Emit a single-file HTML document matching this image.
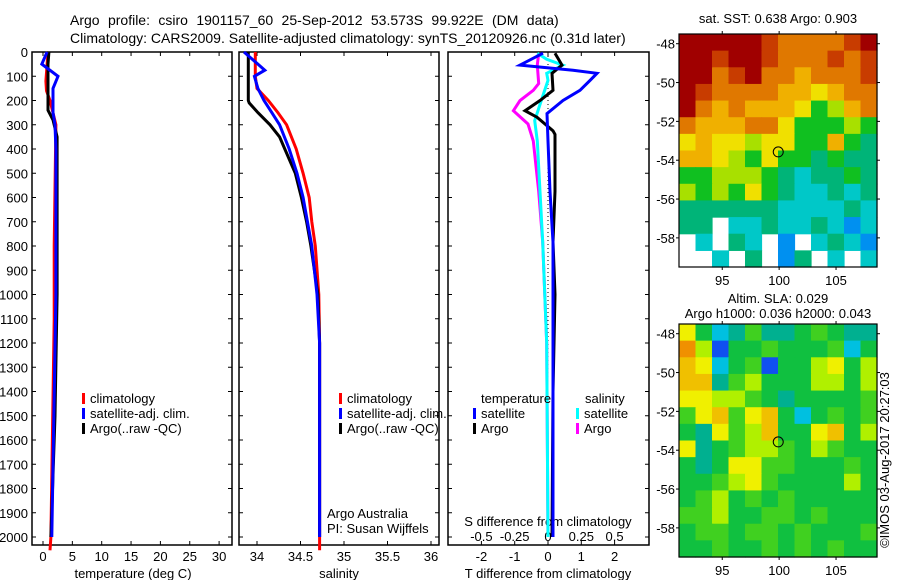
<!DOCTYPE html>
<html><head><meta charset="utf-8">
<style>
html,body{margin:0;padding:0;background:#fff;}
svg{display:block;font-family:"Liberation Sans",sans-serif;}
text{font-size:13px;fill:#000;}
</style></head>
<body>
<svg id="chart" width="900" height="580" viewBox="0 0 900 580" xmlns="http://www.w3.org/2000/svg">
<text x="70" y="25" style="font-size:14px;word-spacing:4.5px">Argo profile: csiro 1901157_60 25-Sep-2012 53.573S 99.922E (DM data)</text>
<text x="70" y="43" style="font-size:14px">Climatology: CARS2009. Satellite-adjusted climatology: synTS_20120926.nc (0.31d later)</text>
<g id="g"></g>
</svg>
<script>
// ---------- data ----------
const depthTicks=[0,100,200,300,400,500,600,700,800,900,1000,1100,1200,1300,1400,1500,1600,1700,1800,1900,2000];
const tempTicks=[0,5,10,15,20,25,30];
const salTicks=[34,34.5,35,35.5,36];
const tdiffTicks=[-2,-1,0,1,2];
const sdiffTicks=[-0.5,-0.25,0,0.25,0.5];
const sdiffLabels=["-0.5","-0.25","0","0.25","0.5"];

const tClimD=[0,120,160,200,300,800,1100,2000,2055];
const tClimV=[0.85,0.5,0.6,1.2,2.2,1.9,1.9,1.35,1.2];
const tSatD=[0,50,100,150,250,300,400,1000,2000];
const tSatV=[0.7,-0.2,2.55,1.7,1.7,2.05,2.2,2.2,1.5];
const tArgoD=[0,50,100,240,280,350,1000,1500,2000];
const tArgoV=[1.0,0.85,0.85,0.85,1.7,2.4,2.4,2.05,1.35];

const sClimD=[0,100,150,200,250,300,400,500,600,700,800,1000,1200,2055];
const sClimV=[33.98,33.98,34.0,34.13,34.24,34.34,34.45,34.53,34.6,34.63,34.67,34.71,34.72,34.72];
const sSatD=[0,50,75,100,150,200,250,300,400,500,600,800,1000,1200,2000];
const sSatV=[33.85,34.01,34.09,33.97,34.01,34.08,34.17,34.26,34.37,34.46,34.53,34.63,34.69,34.72,34.72];
const sArgoD=[0,200,210,250,300,350,400,500,600,700,800,1000,1200,2000];
const sArgoV=[33.9,33.9,33.91,34.01,34.15,34.26,34.32,34.44,34.51,34.57,34.62,34.7,34.72,34.72];

const dTSatD=[5,54,75,88,117,158,200,254,367,575,783,1200,2000];
const dTSatV=[-0.15,-0.84,0.75,1.47,1.26,0.96,0.45,-0.03,0,0.06,0.15,0.15,0.15];
const dTArgoD=[5,54,88,158,200,242,269,325,340,575,783,1000,1400,2000];
const dTArgoV=[0.21,0.42,0.12,0.15,-0.24,-0.69,-0.33,0.15,0.21,0.21,0.15,0.21,0.15,0.12];
const dSSatD=[5,30,54,88,117,200,283,367,575,783,1200,2000];
const dSSatV=[-0.08,-0.01,0.11,-0.01,0,-0.05,-0.1,-0.08,-0.06,-0.04,-0.01,0];
const dSArgoD=[5,54,130,158,200,242,297,367,575,783,1200,2000];
const dSArgoV=[-0.07,-0.08,-0.07,-0.11,-0.21,-0.26,-0.15,-0.11,-0.07,-0.04,-0.01,0];

// maps
const lonTicks=[95,100,105];
const latTicks=[-48,-50,-52,-54,-56,-58];
const argoLon=99.922, argoLat=-53.573;
const sstGrid=[
[9,9,9,9,9,8,7,7,7,7,8,9],
[9,9,8,9,9,8,7,7,7,8,7,8],
[9,9,7,8,9,7,7,6,7,7,7,8],
[9,8,7,7,7,7,6,6,5,6,7,7],
[9,7,6,7,6,6,6,5,3,4,6,7],
[7,6,6,6,7,7,5,3,3,3,4,3],
[5,6,5,5,4,5,5,3,3,6,3,2],
[6,6,5,4,3,5,3,3,2,3,2,2],
[3,3,4,4,4,3,2,1,2,2,3,2],
[4,3,4,3,5,3,2,1,1,2,1,2],
[2,2,2,2,2,2,1,1,1,1,2,1],
[2,2,-1,1,1,2,1,1,2,1,0,1],
[-1,1,-1,2,1,-1,0,-1,1,2,1,0],
[-1,-1,1,-1,2,-1,0,2,-1,1,-1,1]];
const slaGrid=[
[6,3,1,2,4,2,2,3,4,3,2,2],
[8,5,0,3,3,4,3,3,3,4,1,3],
[7,6,1,3,4,0,3,3,5,6,3,5],
[7,7,2,4,5,3,3,3,5,5,3,5],
[6,6,5,5,4,3,2,3,3,3,3,4],
[4,6,7,4,6,7,3,1,3,4,3,4],
[3,2,6,4,5,7,3,3,6,7,3,5],
[6,2,3,4,5,5,4,3,5,4,3,3],
[3,2,3,6,6,4,4,3,3,3,4,3],
[3,3,4,5,6,4,3,3,3,3,5,3],
[3,4,5,3,4,3,4,3,3,3,3,3],
[4,4,5,3,3,4,4,3,4,3,3,3],
[3,4,4,3,4,4,3,4,3,3,3,4],
[3,3,4,3,3,4,3,4,3,4,3,3]];
const sstColors=["#0090f0","#00c8c8","#00b478","#10c020","#a8e000","#f0e000","#f0b000","#e07800","#c83c00","#a00000"];
const slaColors=["#1050f0","#00c0e0","#00b090","#10c040","#40d020","#b0f000","#f0f000","#f0c000","#f09000"];

// ---------- helpers ----------
const NS="http://www.w3.org/2000/svg";
const G=document.getElementById('g');
function mk(tag,attrs,parent){const e=document.createElementNS(NS,tag);for(const k in attrs)e.setAttribute(k,attrs[k]);(parent||G).appendChild(e);return e;}
const TOP=52,BOT=545;
const yD=d=>TOP+d*0.2425;

function panel(x0,x1,name){
  const r=mk('rect',{x:x0,y:TOP,width:x1-x0,height:BOT-TOP,fill:'none',stroke:'#000','stroke-width':1.5});
  
  
}
function xTicks(vals,xf,labels,ly,name){
  vals.forEach((v,i)=>{
    const x=xf(v);
    mk('line',{x1:x,x2:x,y1:TOP,y2:TOP+4,stroke:'#000'});
    mk('line',{x1:x,x2:x,y1:BOT,y2:BOT-4,stroke:'#000'});
    if(ly){const t=mk('text',{x:x,y:ly,'text-anchor':'middle'});t.textContent=labels?labels[i]:String(v);
      
      }
  });
}
function line(D,V,xf,color,name,w){
  const pts=D.map((d,i)=>xf(V[i]).toFixed(1)+','+yD(d).toFixed(1)).join(' ');
  const p=mk('polyline',{points:pts,fill:'none',stroke:color,'stroke-width':w||3,'stroke-linejoin':'miter'});
  
  
}
function label(x,y,s,name,extra){const t=mk('text',Object.assign({x:x,y:y},extra||{}));t.textContent=s;
  
  return t;}
function legBar(x,y,color,name){const r=mk('rect',{x:x,y:y-10,width:3,height:11,fill:color});
  
  }

// ---------- panel 1: temperature ----------
const xT=v=>43+v*5.87;
panel(32,232,'temperature-panel');
depthTicks.forEach(d=>{
  const y=yD(d);
  mk('line',{x1:32,x2:36,y1:y,y2:y,stroke:'#000'});
  mk('line',{x1:232,x2:228,y1:y,y2:y,stroke:'#000'});
  mk('line',{x1:239,x2:243,y1:y,y2:y,stroke:'#000'});
  mk('line',{x1:439,x2:435,y1:y,y2:y,stroke:'#000'});
  mk('line',{x1:448,x2:452,y1:y,y2:y,stroke:'#000'});
  mk('line',{x1:649,x2:645,y1:y,y2:y,stroke:'#000'});
  const t=mk('text',{x:28,y:y+5,'text-anchor':'end'});t.textContent=String(d);
  
  
});
xTicks(tempTicks,xT,null,561,'temperature-tick-label');
label(133,578,'temperature (deg C)','temperature-axis-title',{'text-anchor':'middle'});
line(tClimD,tClimV,xT,'#ff0000','temperature-climatology-line');
line(tArgoD,tArgoV,xT,'#000000','temperature-argo-line');
line(tSatD,tSatV,xT,'#0000ff','temperature-satellite-line');
legBar(82,403,'#ff0000','legend-climatology-swatch');label(90,403,'climatology','legend-climatology');
legBar(82,418,'#0000ff','legend-satellite-swatch');label(90,418,'satellite-adj. clim.','legend-satellite');
legBar(82,433,'#000000','legend-argo-swatch');label(90,433,'Argo(..raw -QC)','legend-argo');

// ---------- panel 2: salinity ----------
const xS=v=>257+(v-34)*87;
panel(239,439,'salinity-panel');
xTicks(salTicks,xS,null,561,'salinity-tick-label');
label(339,578,'salinity','salinity-axis-title',{'text-anchor':'middle'});
line(sClimD,sClimV,xS,'#ff0000','salinity-climatology-line');
line(sArgoD,sArgoV,xS,'#000000','salinity-argo-line');
line(sSatD,sSatV,xS,'#0000ff','salinity-satellite-line');
legBar(339,403,'#ff0000','legend2-climatology-swatch');label(347,403,'climatology','legend2-climatology');
legBar(339,418,'#0000ff','legend2-satellite-swatch');label(347,418,'satellite-adj. clim.','legend2-satellite');
legBar(339,433,'#000000','legend2-argo-swatch');label(347,433,'Argo(..raw -QC)','legend2-argo');
label(327,518,'Argo Australia','argo-australia-note');
label(327,533,'PI: Susan Wijffels','pi-note');

// ---------- panel 3: differences ----------
const xDT=v=>548+v*33.3;
const xDS=v=>548+v*133.2;
panel(448,649,'difference-panel');
xTicks(tdiffTicks,xDT,null,561,'tdiff-tick-label');
sdiffTicks.forEach((v,i)=>{label(xDS(v),541,sdiffLabels[i],'sdiff-tick-label',{'text-anchor':'middle'});});
label(548,526,'S difference from climatology','sdiff-axis-title',{'text-anchor':'middle'});
label(548,578,'T difference from climatology','tdiff-axis-title',{'text-anchor':'middle'});
mk('line',{x1:548,x2:548,y1:TOP,y2:yD(2000),stroke:'#000','stroke-dasharray':'1,3'});
line(dSArgoD,dSArgoV,xDS,'#ff00ff','sdiff-argo-line');
line(dSSatD,dSSatV,xDS,'#00ffff','sdiff-satellite-line');
line(dTArgoD,dTArgoV,xDT,'#000000','tdiff-argo-line');
line(dTSatD,dTSatV,xDT,'#0000ff','tdiff-satellite-line');
label(481,403,'temperature','legend3-temperature-heading');
label(585,403,'salinity','legend3-salinity-heading');
legBar(473,418,'#0000ff','legend3-tsat-swatch');label(481,418,'satellite','legend3-tsat');
legBar(473,433,'#000000','legend3-targo-swatch');label(481,433,'Argo','legend3-targo');
legBar(576,418,'#00ffff','legend3-ssat-swatch');label(584,418,'satellite','legend3-ssat');
legBar(576,433,'#ff00ff','legend3-sargo-swatch');label(584,433,'Argo','legend3-sargo');

// ---------- maps ----------
function map(top,bot,grid,colors,name){
  const L=679,R=877,lon0=91.2,lon1=108.6,lat0=-47.5,lat1=-59.5;
  const xL=v=>L+(v-lon0)/(lon1-lon0)*(R-L);
  const yL=v=>top+(v-lat0)/(lat1-lat0)*(bot-top);
  const nr=grid.length,nc=grid[0].length;
  const cw=(R-L)/nc,ch=(bot-top)/nr;
  grid.forEach((row,i)=>row.forEach((v,j)=>{
    if(v<0)return;
    const c=mk('rect',{x:L+j*cw,y:top+i*ch,width:cw+0.6,height:ch+0.6,fill:colors[v]});
    
    
  }));
  const f=mk('rect',{x:L,y:top,width:R-L,height:bot-top,fill:'none',stroke:'#000','stroke-width':1.2});
  
  
  lonTicks.forEach(v=>{const x=xL(v);
    mk('line',{x1:x,x2:x,y1:top,y2:top-3,stroke:'#000'});
    mk('line',{x1:x,x2:x,y1:bot,y2:bot+3,stroke:'#000'});
    label(x,bot+18,String(v),name+'-lon-label',{'text-anchor':'middle'});});
  latTicks.forEach(v=>{const y=yL(v);
    mk('line',{x1:L,x2:L-3,y1:y,y2:y,stroke:'#000'});
    mk('line',{x1:R,x2:R+3,y1:y,y2:y,stroke:'#000'});
    label(L-4,y+5,String(v),name+'-lat-label',{'text-anchor':'end'});});
  const m=mk('circle',{cx:xL(argoLon),cy:yL(argoLat),r:5,fill:'none',stroke:'#000','stroke-width':1});
  
  
}
map(34,267,sstGrid,sstColors,'sst-map');
map(324,557,slaGrid,slaColors,'sla-map');
label(778,23,'sat. SST: 0.638 Argo: 0.903','sst-map-title',{'text-anchor':'middle'});
label(778,303,'Altim. SLA: 0.029','sla-map-title',{'text-anchor':'middle'});
label(778,318,'Argo h1000: 0.036 h2000: 0.043','sla-map-subtitle',{'text-anchor':'middle'});
label(0,0,'©IMOS 03-Aug-2017 20:27:03','imos-credit',{transform:'translate(889,460) rotate(-90)','text-anchor':'middle'});
</script>
</body></html>
